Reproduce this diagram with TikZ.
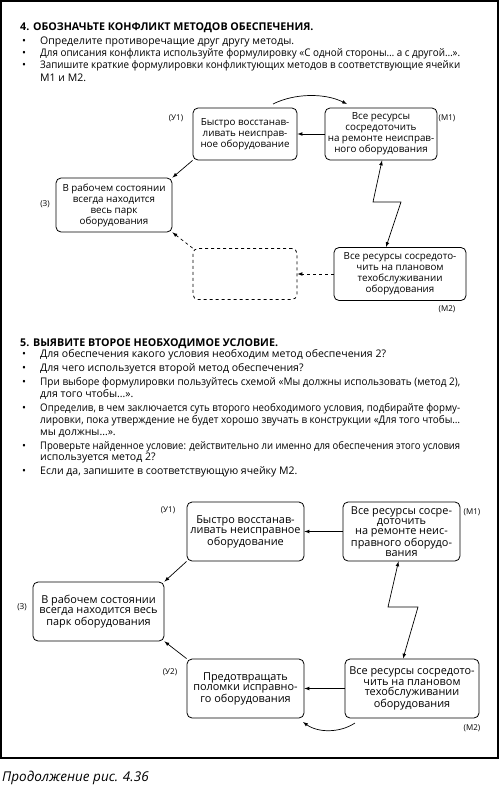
\documentclass[tikz,border=0pt]{standalone}
\usepackage{fontspec}
\usepackage{graphicx}
\setmainfont{Open Sans}
\usetikzlibrary{calc}

\newsavebox{\linebox}
\newcommand{\jline}[1]{\sbox{\linebox}{#1}\ifdim\wd\linebox>420pt\resizebox{420pt}{\height}{\usebox{\linebox}}\else\makebox[420pt][s]{#1}\fi}

\begin{document}
\begin{tikzpicture}[x=1pt,y=-1pt,>=latex]
\tikzstyle{every node} = [inner sep=0pt]
\tikzstyle{txt} = [anchor=base west, font=\fontsize{10.5}{12.5}\selectfont]
\tikzstyle{head} = [anchor=base west, font=\fontsize{10.7}{12.5}\selectfont\bfseries]
\tikzstyle{box} = [draw, rounded corners=5pt, line width=0.8pt, align=center]
\tikzstyle{boxa} = [box, font=\fontsize{9.8}{11}\selectfont]
\tikzstyle{boxb} = [box, font=\fontsize{10.9}{10.2}\selectfont]
\tikzstyle{tag} = [font=\fontsize{8}{9}\selectfont]
\tikzstyle{edge} = [draw, line width=0.7pt, ->]
\useasboundingbox (0,0) rectangle (500,785);
\draw[line width=1.3pt] (1,1) rectangle (498,758);
% task 4
\node[head] (h4) at (20,30) {4. ОБОЗНАЧЬТЕ КОНФЛИКТ МЕТОДОВ ОБЕСПЕЧЕНИЯ.};
\node[txt] (b4_1) at (22,44) {•};
\node[txt] (t4_1) at (40,44) {Определите противоречащие друг другу методы.};
\node[txt] (b4_2) at (22,56) {•};
\node[txt] (t4_2) at (40,56) {\jline{Для описания конфликта используйте формулировку «С одной стороны… а с другой…».}};
\node[txt] (b4_3) at (22,68) {•};
\node[txt] (t4_3) at (40,68) {\jline{Запишите краткие формулировки конфликтующих методов в соответствующие ячейки}};
\node[txt] (t4_4) at (40,81) {М1 и М2.};
% diagram 1
\node[boxa, minimum width=104, minimum height=52] (u1_1) at (245,134) {Быстро восстанав-\\ливать неисправ-\\ное оборудование};
\node[boxa, minimum width=112, minimum height=52] (m1_1) at (381,134) {Все ресурсы\\сосредоточить\\на ремонте неисправ-\\ного оборудования};
\node[boxa, minimum width=116, minimum height=54] (z_1) at (114,205) {В рабочем состоянии\\всегда находится\\весь парк\\оборудования};
\node[box, dashed, minimum width=104, minimum height=51] (e_1) at (245,274) {};
\node[boxa, minimum width=132, minimum height=53] (m2_1) at (400,274) {Все ресурсы сосредото-\\чить на плановом\\техобслуживании\\оборудования};
\node[tag] (lu1_1) at (176,118) {(У1)};
\node[tag] (lm1_1) at (447,118) {(М1)};
\node[tag] (lz_1) at (45,204) {(З)};
\node[tag] (lm2_1) at (447,309) {(М2)};
\coordinate (c1a) at (273,104);
\coordinate (c1b) at (347,104);
\draw[edge] (c1a) .. controls (295,93) and (325,93) .. (c1b);
\draw[edge] (m1_1.west) -- (u1_1.east);
\draw[edge] (u1_1.south west) -- (z_1.north east);
\draw[edge, dashed] (e_1.north west) -- (z_1.south east);
\draw[edge, dashed] (m2_1.west) -- (e_1.east);
\draw[edge, <->] ([xshift=1pt]m1_1.south) -- (373,202) -- (401,202) -- ([xshift=-14pt]m2_1.north);
% task 5
\node[head] (h5) at (20,346) {5. ВЫЯВИТЕ ВТОРОЕ НЕОБХОДИМОЕ УСЛОВИЕ.};
\node[txt] (b5_1) at (22,357) {•};
\node[txt] (t5_1) at (40,357) {Для обеспечения какого условия необходим метод обеспечения 2?};
\node[txt] (b5_2) at (22,371) {•};
\node[txt] (t5_2) at (40,371) {Для чего используется второй метод обеспечения?};
\node[txt] (b5_3) at (22,385) {•};
\node[txt] (t5_3) at (40,385) {\jline{При выборе формулировки пользуйтесь схемой «Мы должны использовать (метод 2),}};
\node[txt] (t5_4) at (40,397) {для того чтобы…».};
\node[txt] (b5_4) at (22,411) {•};
\node[txt] (t5_5) at (40,411) {\jline{Определив, в чем заключается суть второго необходимого условия, подбирайте форму-}};
\node[txt] (t5_6) at (40,423) {\jline{лировки, пока утверждение не будет хорошо звучать в конструкции «Для того чтобы…}};
\node[txt] (t5_7) at (40,435) {мы должны…».};
\node[txt] (b5_5) at (22,449) {•};
\node[txt] (t5_8) at (40,449) {\jline{Проверьте найденное условие: действительно ли именно для обеспечения этого условия}};
\node[txt] (t5_9) at (40,460) {используется метод 2?};
\node[txt] (b5_6) at (22,474) {•};
\node[txt] (t5_10) at (40,474) {Если да, запишите в соответствующую ячейку М2.};
% diagram 2
\node[boxb, minimum width=117, minimum height=59] (u1_2) at (245.5,531.5) {Быстро восстанав-\\ливать неисправное\\оборудование};
\node[boxb, minimum width=117, minimum height=59] (m1_2) at (401.5,531.5) {Все ресурсы сосре-\\доточить\\на ремонте неис-\\правного оборудо-\\вания};
\node[boxb, minimum width=131, minimum height=59] (z_2) at (98.5,611.5) {В рабочем состоянии\\всегда находится весь\\парк оборудования};
\node[boxb, minimum width=117, minimum height=59] (u2_2) at (245.5,688.5) {Предотвращать\\поломки исправно-\\го оборудования};
\node[boxb, minimum width=134, minimum height=59] (m2_2) at (412,688.5) {Все ресурсы сосредото-\\чить на плановом\\техобслуживании\\оборудования};
\node[tag] (lu1_2) at (168,510) {(У1)};
\node[tag] (lm1_2) at (472,512) {(М1)};
\node[tag] (lz_2) at (22,607) {(З)};
\node[tag] (lu2_2) at (170,672) {(У2)};
\node[tag] (lm2_2) at (472,728) {(М2)};
\draw[edge] (m1_2.west) -- (u1_2.east);
\draw[edge] (u1_2.south west) -- (z_2.north east);
\draw[edge] (u2_2.north west) -- (z_2.south east);
\draw[edge] (m2_2.west) -- (u2_2.east);
\draw[edge, <->] ([xshift=-3pt]m1_2.south) -- (388,607) -- (418,607) -- ([xshift=-9pt]m2_2.north);
\coordinate (c2a) at (355,723);
\coordinate (c2b) at (303,722);
\draw[edge] (c2a) .. controls (340,733) and (318,733) .. (c2b);
% caption
\node[anchor=base west, font=\fontsize{13.5}{15}\selectfont\itshape] (cap) at (2,781) {Продолжение рис. 4.36};
\end{tikzpicture}
\end{document}
